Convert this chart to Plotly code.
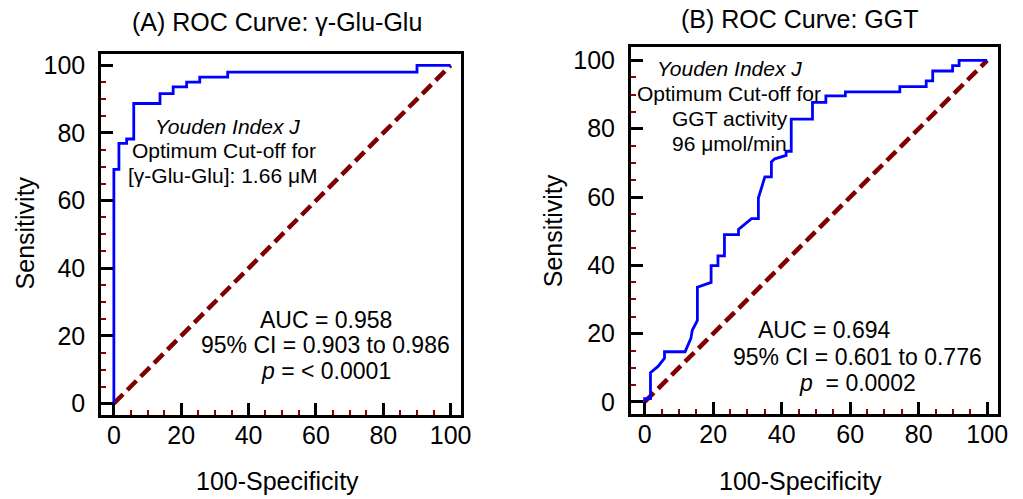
import plotly.graph_objects as go

# ROC curve for gamma-Glu-Glu (100-specificity, sensitivity)
glu_fpr = [0, 0, 1.5, 1.5, 3.8, 3.8, 5.9, 5.9, 13.7, 13.7, 17.6, 17.6, 21.6, 21.6,
           25.5, 25.5, 33.8, 33.8, 90.0, 90.0, 100]
glu_tpr = [0, 69.2, 69.2, 76.9, 76.9, 78.2, 78.2, 88.7, 88.7, 91.6, 91.6, 93.6, 93.6,
           95.0, 95.0, 96.5, 96.5, 98.0, 98.0, 100, 100]

# ROC curve for GGT activity
ggt_fpr = [0, 0, 1.7, 1.7, 3.9, 5.8, 5.8, 11.8, 13.5, 13.9, 15.4, 15.4, 19.4, 19.4,
           21.4, 21.4, 23.3, 23.3, 27.4, 27.4, 31.2, 33.2, 33.2, 35.1, 37.0, 37.0,
           38.0, 41.3, 41.3, 42.8, 42.8, 49.0, 49.0, 52.9, 52.9, 58.6, 58.6, 74.5,
           74.5, 82.2, 82.2, 84.1, 84.1, 89.9, 89.9, 91.8, 91.8, 100]
ggt_tpr = [0, 1.0, 1.0, 8.6, 10.4, 12.8, 14.7, 14.7, 18.6, 21.0, 23.9, 33.6, 35.0,
           39.9, 39.9, 42.8, 42.8, 49.0, 49.0, 50.5, 53.7, 53.7, 59.7, 65.9, 65.9,
           70.3, 71.2, 72.2, 73.4, 73.4, 82.8, 82.8, 87.7, 87.7, 89.6, 89.6, 90.8,
           90.8, 92.3, 92.3, 94.0, 94.0, 96.9, 96.9, 98.5, 98.5, 100, 100]

# Chance line
ref_line = [0, 100]

tick_vals = [0, 20, 40, 60, 80, 100]

FONT = "Liberation Sans, Arial, sans-serif"
W, H = 1023, 499

fig = go.Figure()
fig.add_trace(go.Scatter(x=ref_line, y=ref_line, mode="lines", xaxis="x", yaxis="y",
                         line=dict(color="#800000", width=4.5, dash="13px,6px"),
                         showlegend=False, hoverinfo="skip"))
fig.add_trace(go.Scatter(x=glu_fpr, y=glu_tpr, mode="lines", xaxis="x", yaxis="y",
                         line=dict(color="#0000FF", width=2.8), showlegend=False))
fig.add_trace(go.Scatter(x=ref_line, y=ref_line, mode="lines", xaxis="x2", yaxis="y2",
                         line=dict(color="#800000", width=4.5, dash="13px,6px"),
                         showlegend=False, hoverinfo="skip"))
fig.add_trace(go.Scatter(x=ggt_fpr, y=ggt_tpr, mode="lines", xaxis="x2", yaxis="y2",
                         line=dict(color="#0000FF", width=2.8), showlegend=False))


def axis(domain, rng, anchor, standoff):
    return dict(
        domain=domain, range=rng, anchor=anchor,
        showline=True, linecolor="black", linewidth=2.5, mirror=True,
        ticks="inside", ticklen=12, tickwidth=2.5, tickcolor="black",
        tickmode="array", tickvals=tick_vals,
        tickfont=dict(family=FONT, size=25, color="black"),
        ticklabelstandoff=standoff,
        showgrid=False, zeroline=False, fixedrange=True,
        minor=dict(ticks="inside", ticklen=5, tickwidth=1.6, tickcolor="#8B0000",
                   tick0=0, dtick=5, showgrid=False),
    )


def px(x):
    return x / W


def py(y):
    return 1 - y / H


fig.update_layout(
    width=W, height=H,
    margin=dict(l=0, r=0, t=0, b=0),
    paper_bgcolor="white", plot_bgcolor="white",
    xaxis=axis([px(102), px(466)], [-3.82, 103.2], "y", -4),
    yaxis=axis([py(416), py(52)], [-3.37, 103.2], "x", 8),
    xaxis2=axis([px(637), px(1008)], [-4.05, 103.2], "y2", -4),
    yaxis2=axis([py(415), py(44)], [-3.48, 104.06], "x2", 8),
)

annotations = []


def paper_text(text, x, y, size=25, angle=0):
    annotations.append(dict(text=text, x=px(x), y=py(y), xref="paper", yref="paper",
                            showarrow=False, textangle=angle,
                            font=dict(family=FONT, size=size, color="black"),
                            xanchor="center", yanchor="middle"))


def data_text(text, x, y, xr, yr, size=21):
    annotations.append(dict(text=text, x=x, y=y, xref=xr, yref=yr, showarrow=False,
                            font=dict(family=FONT, size=size, color="black"),
                            xanchor="center", yanchor="middle"))


# Panel titles and axis titles
paper_text("(A) ROC Curve: γ-Glu-Glu", 280, 19)
paper_text("(B) ROC Curve: GGT", 808, 16)
paper_text("Sensitivity", 25, 232, angle=-90)
paper_text("Sensitivity", 558, 230, angle=-90)
paper_text("100-Specificity", 280, 483)
paper_text("100-Specificity", 808, 483)

# Panel A labels
data_text("<i>Youden Index J</i>", 33.8, 81.8, "x", "y")
data_text("Optimum Cut-off for", 32.6, 74.7, "x", "y")
data_text("[γ-Glu-Glu]: 1.66 μM", 32.4, 67.4, "x", "y")
data_text("AUC = 0.958", 62.9, 24.8, "x", "y", size=23)
data_text("95% CI = 0.903 to 0.986", 62.9, 17.2, "x", "y", size=23)
data_text("<i>p</i> = < 0.0001", 62.9, 9.5, "x", "y", size=23)

# Panel B labels
data_text("<i>Youden Index J</i>", 24.9, 97.6, "x2", "y2")
data_text("Optimum Cut-off for", 24.6, 90.4, "x2", "y2")
data_text("GGT activity", 24.9, 83.1, "x2", "y2")
data_text("96 μmol/min", 24.9, 75.7, "x2", "y2")
data_text("AUC = 0.694", 52.6, 21.2, "x2", "y2", size=23)
data_text("95% CI = 0.601 to 0.776", 62.1, 13.3, "x2", "y2", size=23)
data_text("<i>p</i>  = 0.0002", 62.1, 5.5, "x2", "y2", size=23)

fig.update_layout(annotations=annotations)

fig.write_html("out.html")
